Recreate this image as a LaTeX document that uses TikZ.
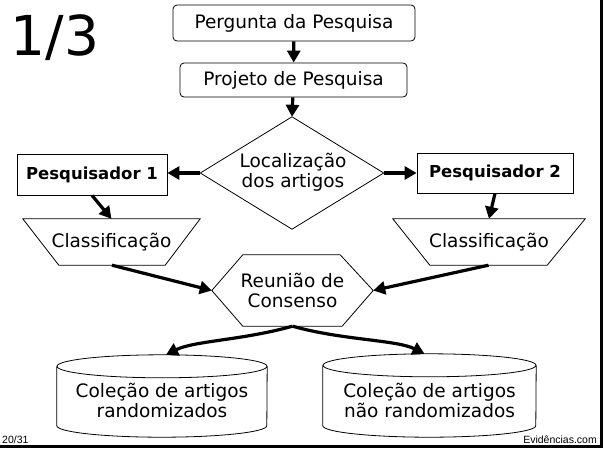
\documentclass[tikz,border=0pt]{standalone}
\usepackage{fontspec}
\setmainfont{DejaVu Sans}
\newfontfamily\footfont{Liberation Sans}
\usetikzlibrary{arrows.meta,calc}
\begin{document}
\begin{tikzpicture}[x=1pt,y=-1pt,
  txt/.style={align=center, inner sep=0pt, font=\fontsize{18.5}{20}\selectfont},
  rbox/.style={txt, draw=black, line width=0.8pt, rounded corners=4pt},
  sbox/.style={txt, draw=black, line width=0.8pt, font=\fontsize{16.5}{18}\selectfont\bfseries},
  frame/.style={inner sep=0pt, draw=none},
  outline/.style={draw=black, line width=0.8pt},
  arr/.style={line width=3.2pt, -{Triangle[length=12pt,width=13pt]}},
  foot/.style={inner sep=0pt, font=\footfont\fontsize{10.5}{12}\selectfont}
]
\useasboundingbox (0,0) rectangle (605,450);

% border
\fill[black] (600,0) rectangle (603,447.5);
\fill[black] (0,444.5) rectangle (603,447.5);

% title
\node[txt, font=\fontsize{55}{55}\selectfont] (t) at (55,38) {1/3};

% top boxes
\node[rbox, minimum width=242pt, minimum height=36pt] (q) at (294,23) {Pergunta da Pesquisa};
\node[rbox, minimum width=227pt, minimum height=34pt] (p) at (293.5,80) {Projeto de Pesquisa};

% diamond
\node[frame, minimum width=183pt, minimum height=112pt] (d) at (292,173) {};
\draw[outline] (d.north) -- (d.east) -- (d.south) -- (d.west) -- cycle;
\node[txt] (dt) at (293,172) {Localização\\[0pt]dos artigos};

% researchers
\node[sbox, minimum width=150pt, minimum height=41pt] (r1) at (92,174.5) {Pesquisador 1};
\node[sbox, minimum width=156pt, minimum height=40pt] (r2) at (495,173) {Pesquisador 2};

% classification trapezoids
\node[frame, minimum width=177pt, minimum height=46pt] (c1) at (111.5,242) {};
\draw[outline] (c1.north west) -- (c1.north east) -- ($(c1.south east)+(-35,0)$) -- ($(c1.south west)+(36,0)$) -- cycle;
\node[txt] (c1t) at (111.5,242) {Classificação};
\node[frame, minimum width=192pt, minimum height=46pt] (c2) at (489,242) {};
\draw[outline] (c2.north west) -- (c2.north east) -- ($(c2.south east)+(-38,0)$) -- ($(c2.south west)+(37,0)$) -- cycle;
\node[txt] (c2t) at (489,242) {Classificação};

% hexagon
\node[frame, minimum width=161pt, minimum height=71pt] (h) at (292.5,290.5) {};
\draw[outline] (h.west) -- ($(h.north west)+(31,0)$) -- ($(h.north east)+(-33,0)$) -- (h.east) -- ($(h.south east)+(-31,0)$) -- ($(h.south west)+(31,0)$) -- cycle;
\node[txt] (ht) at (292.5,290) {Reunião de\\[0pt]Consenso};

% cylinders
\node[frame, minimum width=210pt, minimum height=82pt] (k1) at (162,396) {};
\draw[outline] ($(k1.north)+(0,11.5)$) ellipse [x radius=105pt, y radius=11.5pt];
\draw[outline] ($(k1.north west)+(0,11.5)$) -- ($(k1.south west)+(0,-11.5)$)
  arc[start angle=180, end angle=360, x radius=105pt, y radius=11.5pt] -- ($(k1.north east)+(0,11.5)$);
\node[txt] (k1t) at (162,400) {Coleção de artigos\\[0pt]randomizados};

\node[frame, minimum width=213pt, minimum height=83pt] (k2) at (429.5,395.5) {};
\draw[outline] ($(k2.north)+(0,11.5)$) ellipse [x radius=106.5pt, y radius=11.5pt];
\draw[outline] ($(k2.north west)+(0,11.5)$) -- ($(k2.south west)+(0,-11.5)$)
  arc[start angle=180, end angle=360, x radius=106.5pt, y radius=11.5pt] -- ($(k2.north east)+(0,11.5)$);
\node[txt] (k2t) at (429.5,400) {Coleção de artigos\\[0pt]não randomizados};

% connectors
\draw[arr] (q) -- (p);
\draw[arr] (p) -- (d.north);
\draw[arr] (d.west) -- (d.west -| r1.east);
\draw[arr] (d.east) -- (d.east -| r2.west);
\draw[arr] (r1.south) -- (c1.north);
\draw[arr] (r2.south) -- (c2.north);
\draw[arr] ($(c1.south)+(0.5,0)$) -- (h.west);
\draw[arr] ($(c2.south)+(-0.5,0)$) -- (h.east);
\draw[arr] (h.south) .. controls +(-50,14) and +(28,-14) .. ($(k1.north)+(4,0)$);
\draw[arr] (h.south) .. controls +(50,14) and +(-28,-14) .. ($(k2.north)+(-5,0)$);

% footer
\node[foot, anchor=base west] (f1) at (2,443) {20/31};
\node[foot, anchor=base east] (f2) at (597,443) {Evidências.com};
\end{tikzpicture}
\end{document}
